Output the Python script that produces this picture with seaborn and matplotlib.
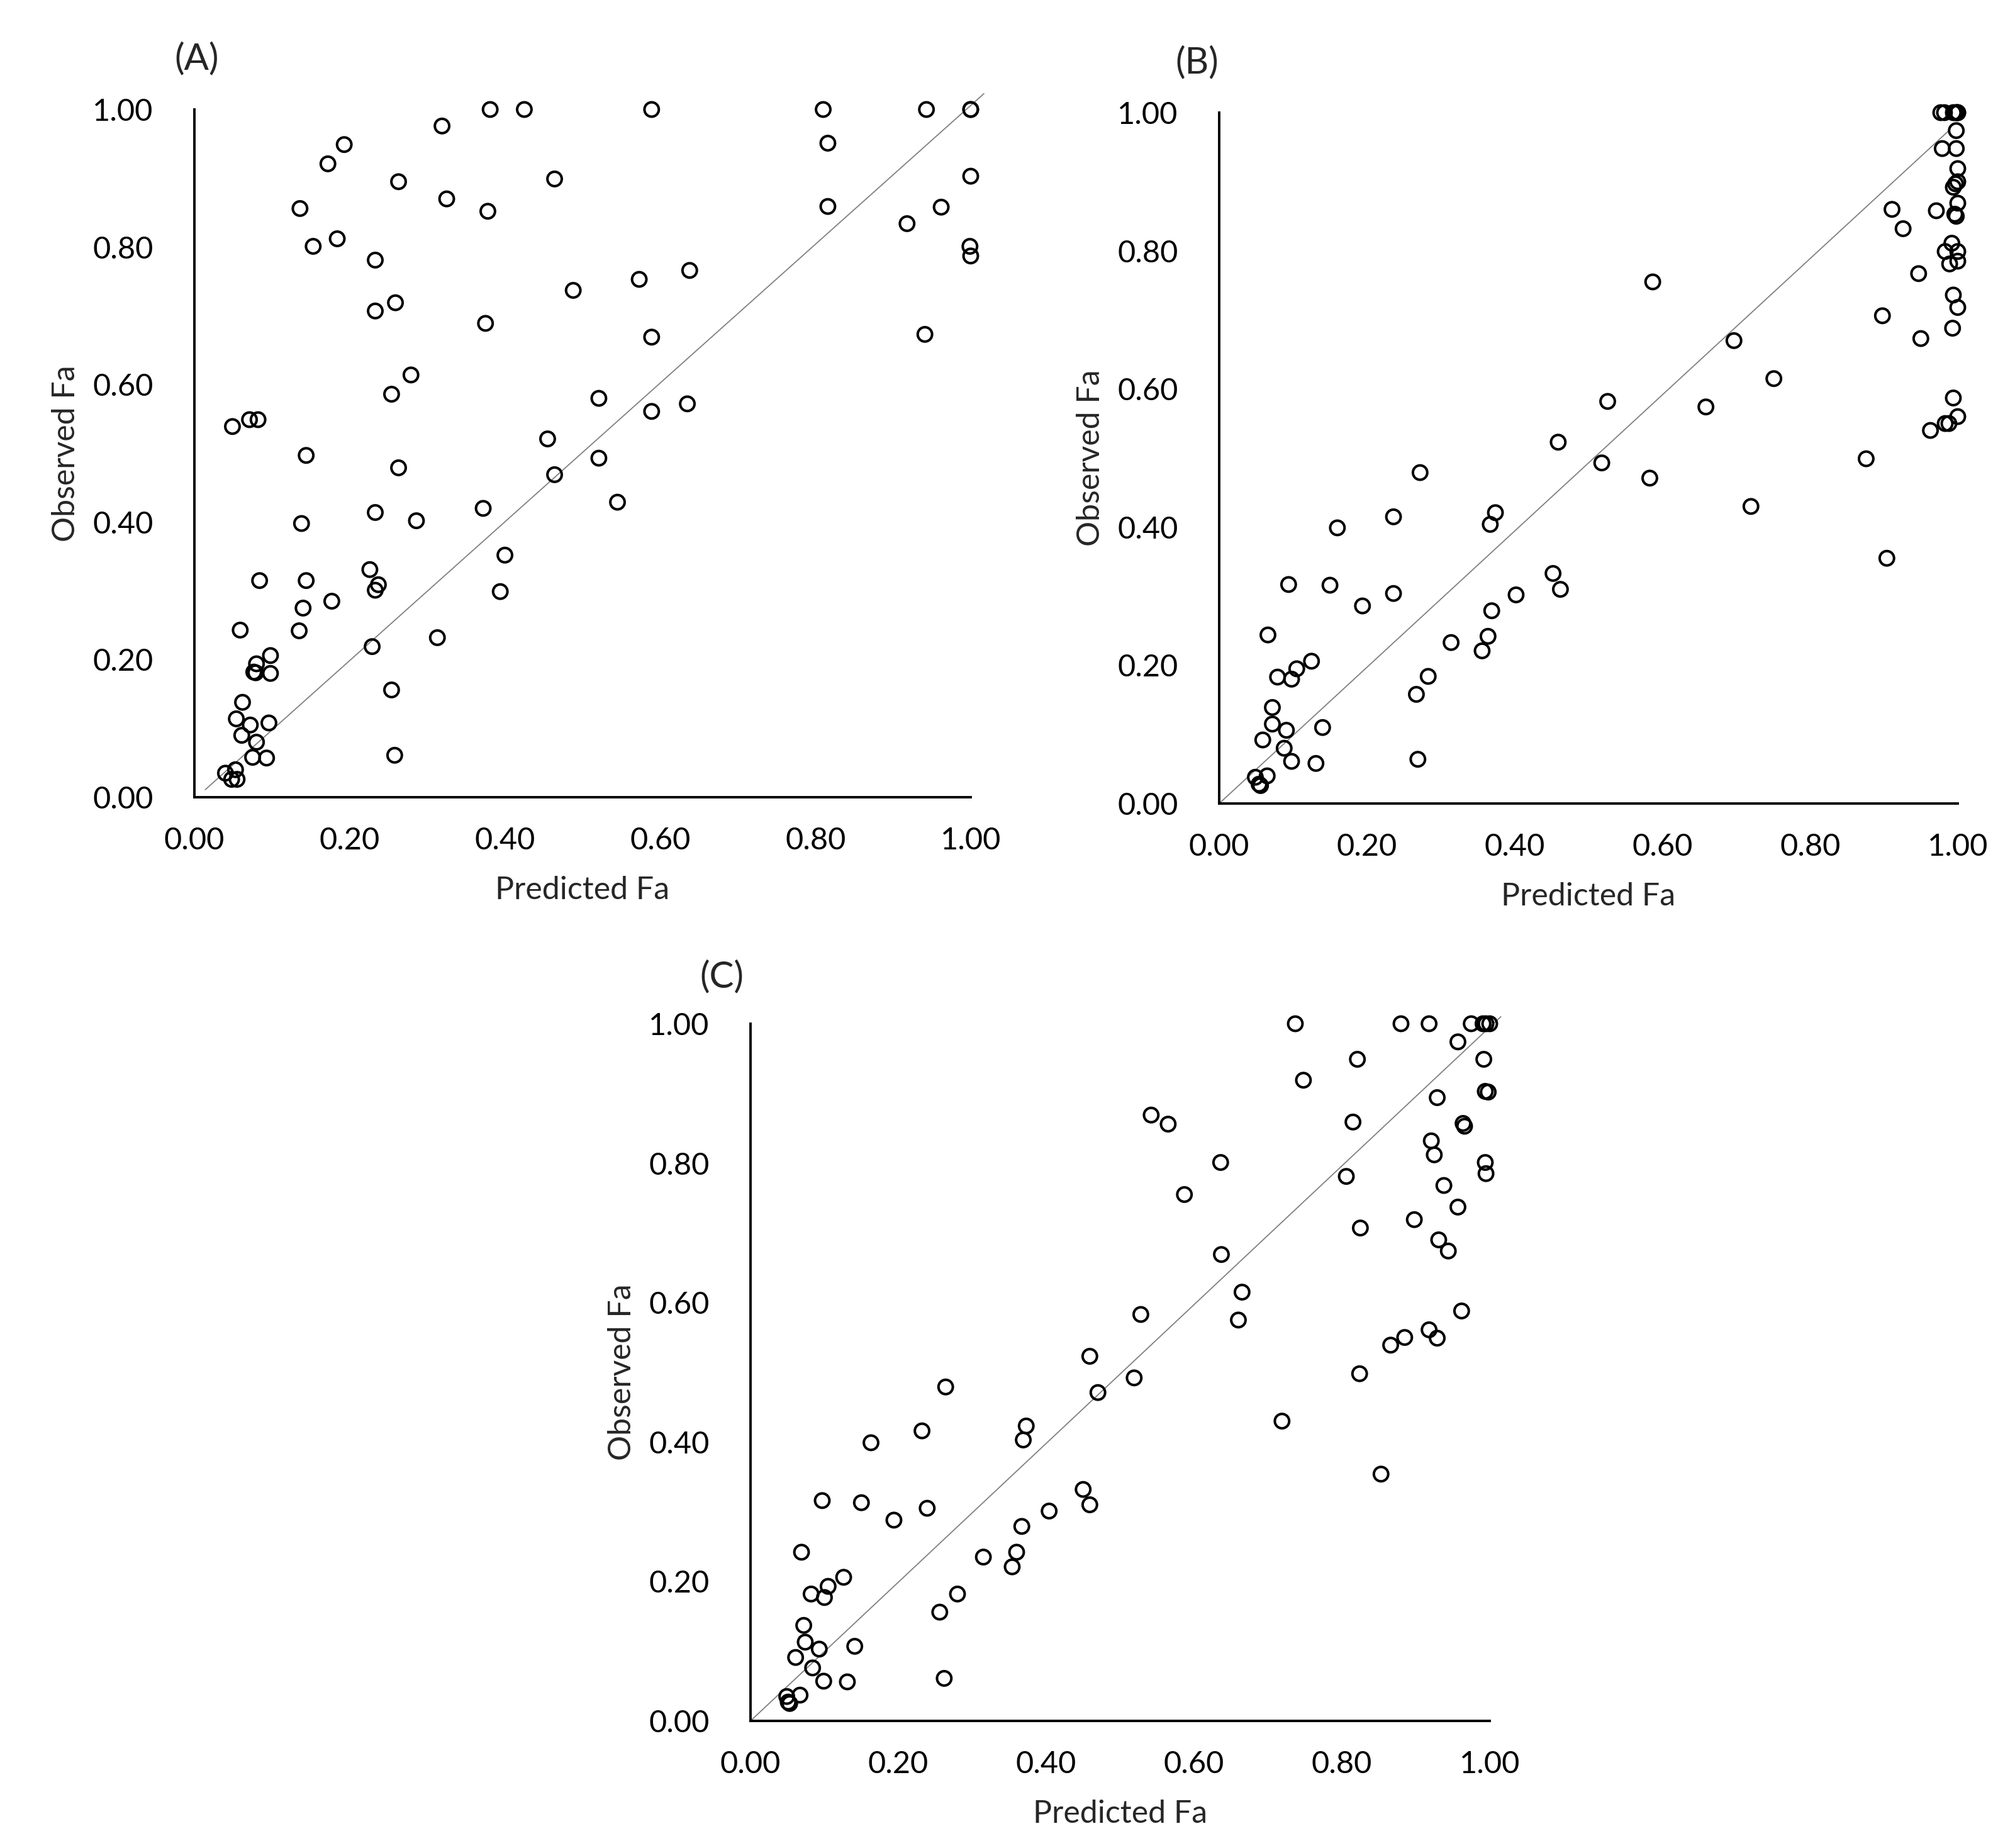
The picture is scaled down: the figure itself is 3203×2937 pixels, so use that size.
import matplotlib
matplotlib.use("Agg")
import matplotlib.pyplot as plt
import seaborn as sns

W, H = 3203, 2937

# panel A: predicted vs observed Fa
a_pred = [0.381, 0.425, 0.589, 0.810, 0.943, 1.00, 1.00,
          0.319, 0.193, 0.172, 0.263, 0.464, 0.816, 1.00,
          0.325, 0.136, 0.378, 0.816, 0.962, 0.918,
          0.184, 0.153, 0.233, 0.999, 1.00,
          0.638, 0.573, 0.488, 0.259, 0.233, 0.375,
          0.589, 0.941, 0.279, 0.254, 0.521, 0.635, 0.589,
          0.071, 0.082, 0.049, 0.455, 0.144, 0.521,
          0.263, 0.464, 0.545, 0.372, 0.233, 0.286, 0.138,
          0.400, 0.226, 0.084, 0.144, 0.237, 0.233, 0.394,
          0.177, 0.140,
          0.059, 0.135, 0.313, 0.229, 0.098, 0.080, 0.0765, 0.079, 0.098,
          0.254, 0.062, 0.054, 0.072, 0.096, 0.061, 0.080, 0.075, 0.093,
          0.258, 0.040, 0.053, 0.048, 0.055]
a_obs = [1.00, 1.00, 1.00, 1.00, 1.00, 1.00, 1.00,
         0.976, 0.949, 0.921, 0.895, 0.899, 0.951, 0.903,
         0.870, 0.856, 0.852, 0.859, 0.858, 0.834,
         0.812, 0.801, 0.781, 0.801, 0.787,
         0.766, 0.753, 0.737, 0.719, 0.707, 0.689,
         0.669, 0.673, 0.614, 0.586, 0.580, 0.572, 0.561,
         0.549, 0.549, 0.539, 0.521, 0.497, 0.493,
         0.479, 0.469, 0.429, 0.420, 0.414, 0.402, 0.398,
         0.352, 0.331, 0.315, 0.315, 0.309, 0.301, 0.299,
         0.285, 0.275,
         0.243, 0.242, 0.232, 0.219, 0.206, 0.194, 0.182, 0.181, 0.180,
         0.156, 0.138, 0.114, 0.105, 0.108, 0.090, 0.080, 0.058, 0.057,
         0.061, 0.035, 0.040, 0.026, 0.026]

# panel B
b_pred = [0.977, 0.982, 0.994, 0.997, 0.999, 1.00, 1.00,
          0.998, 0.979, 0.998, 1.00, 1.00, 0.997, 0.994, 1.00, 0.996, 0.998,
          0.911, 0.971, 0.926, 0.992, 0.983, 1.00, 0.989, 1.00, 0.947,
          0.994, 1.00, 0.898, 0.993, 0.950,
          0.587, 0.697, 0.751, 0.526, 0.659, 0.994, 1.00, 0.983, 0.988, 0.963,
          0.459, 0.876, 0.518, 0.272, 0.583, 0.720, 0.236, 0.374, 0.367, 0.160,
          0.904, 0.452, 0.094, 0.150, 0.462, 0.236, 0.402, 0.194, 0.369,
          0.066, 0.314, 0.364, 0.356, 0.125, 0.105, 0.079, 0.098, 0.283,
          0.267, 0.072, 0.072, 0.140, 0.091, 0.059, 0.088, 0.098, 0.131,
          0.269, 0.049, 0.065, 0.054, 0.056]
b_obs = [1.00, 1.00, 1.00, 1.00, 1.00, 1.00, 1.00,
         0.974, 0.948, 0.948, 0.919, 0.900, 0.897, 0.892, 0.869, 0.853, 0.850,
         0.860, 0.858, 0.832, 0.811, 0.799, 0.799, 0.781, 0.785, 0.767,
         0.736, 0.718, 0.706, 0.688, 0.673,
         0.755, 0.670, 0.615, 0.582, 0.574, 0.587, 0.560, 0.550, 0.550, 0.540,
         0.523, 0.499, 0.493, 0.479, 0.471, 0.430, 0.415, 0.421, 0.404, 0.399,
         0.355, 0.333, 0.317, 0.316, 0.310, 0.304, 0.302, 0.286, 0.279,
         0.244, 0.233, 0.242, 0.221, 0.206, 0.195, 0.183, 0.180, 0.184,
         0.158, 0.139, 0.115, 0.110, 0.106, 0.092, 0.080, 0.061, 0.058,
         0.064, 0.038, 0.040, 0.028, 0.026]

# panel C
c_pred = [0.737, 0.880, 0.918, 0.975, 0.991, 0.995, 1.00,
          0.957, 0.821, 0.992, 0.748, 0.994, 0.998, 0.929,
          0.542, 0.565, 0.815, 0.964, 0.966, 0.921, 0.925,
          0.636, 0.994, 0.995, 0.806, 0.938, 0.587, 0.957, 0.898, 0.825,
          0.931, 0.637, 0.944,
          0.665, 0.962, 0.528, 0.660, 0.918, 0.929, 0.885, 0.866,
          0.459, 0.824, 0.519, 0.264, 0.470, 0.719, 0.232, 0.373, 0.369,
          0.163, 0.853, 0.450, 0.097, 0.150, 0.459, 0.239, 0.404, 0.194,
          0.367, 0.069, 0.315, 0.360, 0.354, 0.126, 0.105, 0.082, 0.100,
          0.280, 0.256, 0.072, 0.074, 0.141, 0.093, 0.061, 0.084, 0.099,
          0.131, 0.262, 0.049, 0.067, 0.051, 0.053]
c_obs = [1.00, 1.00, 1.00, 1.00, 1.00, 1.00, 1.00,
         0.974, 0.949, 0.949, 0.919, 0.903, 0.902, 0.894,
         0.869, 0.856, 0.859, 0.857, 0.853, 0.832, 0.812,
         0.801, 0.801, 0.785, 0.781, 0.768, 0.755, 0.737, 0.719, 0.707,
         0.690, 0.669, 0.674,
         0.615, 0.588, 0.583, 0.575, 0.561, 0.549, 0.550, 0.539,
         0.523, 0.498, 0.492, 0.479, 0.471, 0.430, 0.416, 0.423, 0.403,
         0.399, 0.354, 0.332, 0.316, 0.313, 0.310, 0.305, 0.301, 0.288,
         0.279, 0.242, 0.235, 0.242, 0.221, 0.206, 0.193, 0.182, 0.177,
         0.182, 0.156, 0.137, 0.113, 0.107, 0.103, 0.091, 0.076, 0.057,
         0.056, 0.061, 0.035, 0.037, 0.027, 0.025]

# 1:1 reference line end points per panel
lines = {
    "A": ([0.014, 1.017], [0.011, 1.023]),
    "B": ([0.0, 0.987], [0.0, 0.973]),
    "C": ([0.0, 1.015], [0.0, 1.010]),
}

ticks = [0.0, 0.2, 0.4, 0.6, 0.8, 1.0]
tick_labels = [f"{t:.2f}" for t in ticks]

sns.set_style("white")
plt.rcParams["font.family"] = ["Lato", "DejaVu Sans"]

fig = plt.figure(figsize=(W / 100, H / 100), dpi=100)

# axes boxes in pixels: left, right, top, bottom
boxes = {
    "A": (309, 1543, 174, 1267),
    "B": (1938, 3112, 179, 1277),
    "C": (1193, 2368, 1627, 2735),
}
label_pos = {"A": (313, 94), "B": (1903, 100), "C": (1147, 1553)}
data = {"A": (a_pred, a_obs), "B": (b_pred, b_obs), "C": (c_pred, c_obs)}

for key, (l, r, t, b) in boxes.items():
    w_px, h_px = r - l, b - t
    ax = fig.add_axes([l / W, (H - b) / H, w_px / W, h_px / H])
    lx, ly = lines[key]
    ax.plot(lx, ly, color="#808080", lw=1.3, clip_on=False, zorder=1)
    px, py = data[key]
    sns.scatterplot(x=px, y=py, ax=ax, s=270, marker="o", facecolor="none",
                    edgecolor="black", linewidth=2.9, clip_on=False, zorder=3)
    ax.set_xlim(0, 1)
    ax.set_ylim(0, 1)
    ax.set_xticks(ticks)
    ax.set_yticks(ticks)
    ax.set_xticklabels(tick_labels)
    ax.set_yticklabels(tick_labels)
    ax.tick_params(axis="both", length=0, labelsize=35, colors="black")
    ax.tick_params(axis="x", pad=34)
    ax.tick_params(axis="y", pad=47)
    for side in ["top", "right"]:
        ax.spines[side].set_visible(False)
    for side in ["left", "bottom"]:
        ax.spines[side].set_color("black")
        ax.spines[side].set_linewidth(2.8)
    ax.set_xlabel("Predicted Fa", fontsize=36, va="center", ha="center")
    ax.set_ylabel("Observed Fa", fontsize=36, va="center", ha="center")
    ax.xaxis.set_label_coords(0.5, -148 / h_px)
    ax.yaxis.set_label_coords(-204 / w_px, 0.5)
    ax.set_facecolor("white")
    ax.grid(False)
    tx, ty = label_pos[key]
    fig.text(tx / W, 1 - ty / H, f"({key})", fontsize=42, ha="center", va="center")

fig.savefig("out.png", dpi=100, facecolor="white")
